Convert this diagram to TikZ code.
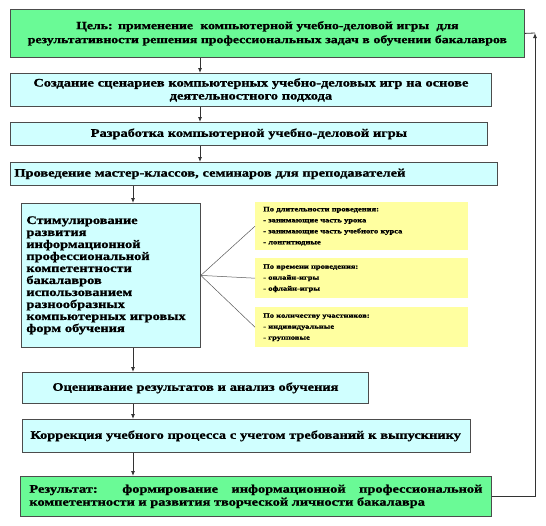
\documentclass[tikz,border=0pt]{standalone}
\usepackage{fontspec}
\setmainfont{Liberation Serif}[FakeStretch=1.25,BoldFeatures={FakeBold=1.2}]
\usetikzlibrary{arrows.meta,positioning}
\definecolor{goalgreen}{RGB}{106,250,150}
\definecolor{stepcyan}{RGB}{208,255,255}
\definecolor{kindyellow}{RGB}{255,255,160}

\begin{document}
\begin{tikzpicture}[x=1pt,y=-1pt,
    box/.style={draw=black!70,line width=0.8pt,anchor=north west,inner sep=0pt,
      font=\fontsize{11.5}{13}\selectfont\bfseries},
    goalbox/.style={box,fill=goalgreen},
    stepbox/.style={box,fill=stepcyan},
    kind/.style={fill=kindyellow,anchor=north west,inner xsep=8pt,inner ysep=0pt,
      align=left,font=\fontsize{6.8}{11}\selectfont\bfseries},
    arr/.style={-{Latex[length=5pt,width=4pt]},line width=0.8pt,black!80},
    link/.style={line width=0.5pt,black!65}]
   \useasboundingbox (0,0) rectangle (546,525);
   \coordinate (sp_1) at (200,0);
   \coordinate (sp_2) at (133,0);
   \coordinate (fb) at (535,33);
   % main column
   \node[goalbox,minimum width=514pt,minimum height=48pt,text width=506pt,align=center,
      font=\fontsize{11}{14}\selectfont\bfseries]
      (goal) at (10,9) {Цель: применение\ \ компьютерной учебно-деловой игры\ \ для\\
      результативности решения профессиональных задач в обучении бакалавров};
   \node[stepbox,minimum width=481pt,minimum height=33pt,text width=473pt,align=center]
      (s_1) at (10,73) {Создание сценариев компьютерных учебно-деловых игр на основе\\
      деятельностного подхода};
   \node[stepbox,minimum width=477pt,minimum height=23pt,text width=469pt,align=center]
      (s_2) at (10,122) {Разработка компьютерной учебно-деловой игры};
   \node[stepbox,minimum width=487pt,minimum height=23pt,text width=479pt,align=left]
      (s_3) at (10,162) {Проведение мастер-классов, семинаров для преподавателей};
   \node[stepbox,minimum width=179pt,minimum height=144pt,text width=169pt,align=left,
      font=\fontsize{11.5}{12}\selectfont\bfseries]
      (s_4) at (21,203) {Стимулирование\\ развития\\ информационной\\ профессиональной\\
      компетентности\\ бакалавров\\ использованием\\ разнообразных\\
      компьютерных игровых\\ форм обучения};
   \node[stepbox,minimum width=346pt,minimum height=31pt,text width=338pt,align=center]
      (s_5) at (22,372) {Оценивание результатов и анализ обучения};
   \node[stepbox,minimum width=448pt,minimum height=33pt,text width=432pt,align=left]
      (s_6) at (22,419) {Коррекция учебного процесса с учетом требований к выпускнику};
   \node[goalbox,minimum width=471pt,minimum height=40pt,text width=453pt,align=justify]
      (res) at (20,476) {Результат: формирование информационной профессиональной\linebreak
      компетентности и развития творческой личности бакалавра};
   % kinds of games
   \node[kind,minimum width=213pt,minimum height=48pt,text width=197pt] (k_1) at (255,202)
      {По длительности проведения:\\ - занимающие часть урока\\
      - занимающие часть учебного курса\\ - лонгитюдные};
   \node[kind,minimum width=213pt,minimum height=40pt,text width=197pt] (k_2) at (255,258)
      {По времени проведения:\\ - онлайн-игры\\ - офлайн-игры};
   \node[kind,minimum width=213pt,minimum height=40pt,text width=197pt] (k_3) at (255,307)
      {По количеству участников:\\ - индивидуальные\\ - групповые};
   % connectors
   \draw[arr] (goal.south -| sp_1) -- (s_1.north -| sp_1);
   \draw[arr] (s_1.south -| sp_1) -- (s_2.north -| sp_1);
   \draw[arr] (s_2.south -| sp_1) -- (s_3.north -| sp_1);
   \draw[arr] (s_3.south -| sp_2) -- (s_4.north -| sp_2);
   \draw[arr] (s_4.south -| sp_2) -- (s_5.north -| sp_2);
   \draw[arr] (s_5.south -| sp_2) -- (s_6.north -| sp_2);
   \draw[arr] (s_6.south -| sp_2) -- (res.north -| sp_2);
   \draw[link] (s_4.east) -- (k_1.west);
   \draw[link] (s_4.east) -- (k_2.west);
   \draw[link] (s_4.east) -- (k_3.west);
   \draw[line width=0.8pt,black!80] (goal.east) -- (fb);
   \draw[arr] (res.east) -| (fb);
\end{tikzpicture}
\end{document}
